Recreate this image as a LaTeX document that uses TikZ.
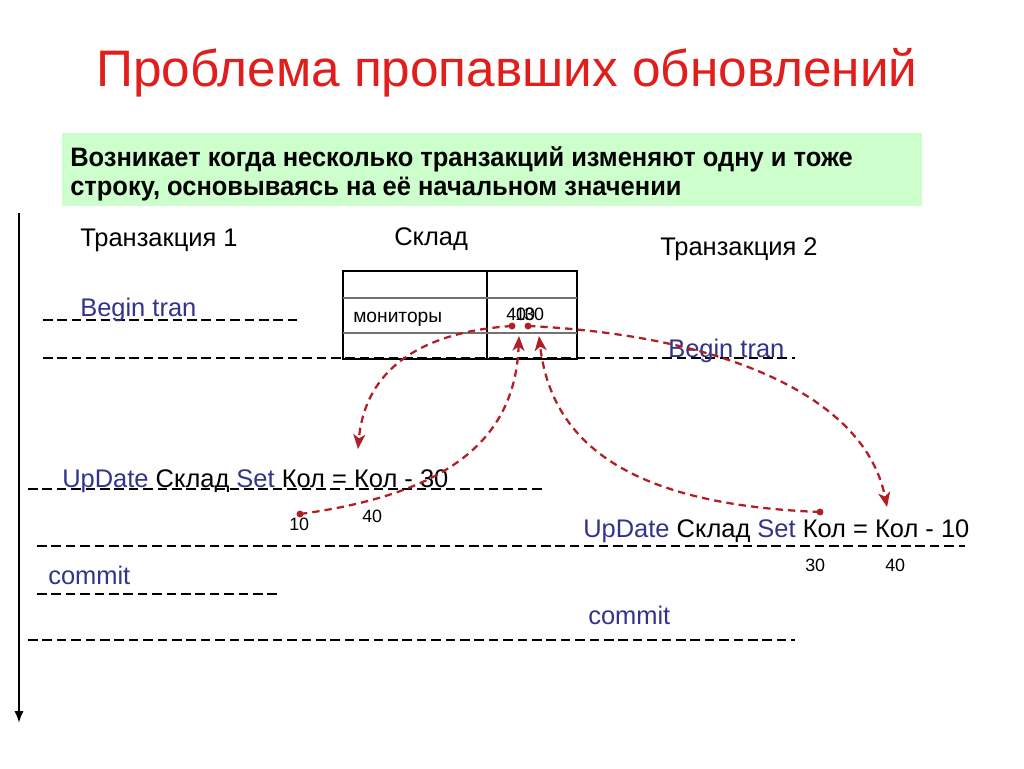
\documentclass[tikz,border=0pt]{standalone}
\usepackage{fontspec}
\setmainfont{Liberation Sans}
\newfontfamily\narrowfont[FakeStretch=0.955]{Liberation Sans}
\usetikzlibrary{arrows.meta}
\definecolor{titlered}{RGB}{224,30,28}
\definecolor{boxgreen}{RGB}{204,255,204}
\definecolor{flowred}{RGB}{178,30,36}
\definecolor{kwblue}{RGB}{51,51,140}
\tikzset{
  titletext/.style={anchor=base, inner sep=0pt, text=titlered, font=\fontsize{38.5}{46}\selectfont},
  notetext/.style={anchor=base west, inner sep=0pt, font=\narrowfont\bfseries\fontsize{20}{24}\selectfont},
  lbl/.style={anchor=base west, inner sep=0pt, font=\fontsize{19.1}{23}\selectfont},
  cell/.style={anchor=base west, inner sep=0pt, font=\fontsize{14.4}{17}\selectfont},
  num/.style={anchor=base west, inner sep=0pt, font=\fontsize{13.4}{15}\selectfont},
  tl/.style={line width=1.7pt, dash pattern=on 7.2pt off 3.6pt},
  redflow/.style={draw=flowred, line width=1.7pt, dash pattern=on 5.5pt off 3.8pt, -{Stealth[length=11pt,width=9pt,inset=3pt]}},
  reddot/.style={fill=flowred}
}
\newcommand{\kw}[1]{\textcolor{kwblue}{#1}}
\begin{document}
\begin{tikzpicture}[x=0.75pt,y=-0.75pt]
\useasboundingbox (0,0) rectangle (1024,768);
% title
\node[titletext] (title) at (507,86) {Проблема пропавших обновлений};
% green note
\node[fill=boxgreen, minimum width=645pt, minimum height=54.75pt, anchor=north west, inner sep=0pt] (note) at (62,133) {};
\node[notetext] (note1) at (70,166) {Возникает когда несколько транзакций изменяют одну и тоже};
\node[notetext] (note2) at (70,195) {строку, основываясь на её начальном значении};
% time axis
\coordinate (axtop) at (19,213);
\coordinate (axbot) at (19,723);
\draw[line width=1.6pt, -{Latex[length=9pt,width=7pt]}] (axtop) -- (axbot);
% column headers
\node[lbl] (t1) at (80,246) {Транзакция 1};
\node[lbl] (sklad) at (394,245) {Склад};
\node[lbl] (t2) at (660,255) {Транзакция 2};
% table
\draw[line width=1.2pt] (343,271) rectangle (577,359);
\draw[line width=1.2pt] (487,271) -- (487,359);
\draw[line width=0.8pt, black!55] (343,298) -- (577,298);
\draw[line width=0.8pt, black!55] (343,333) -- (577,333);
\node[cell] (mon) at (353,322) {мониторы};
\node[num] (v40) at (506,320) {40};
\node[num] (v10) at (515,320) {10};
\node[num] (v30) at (524,320) {30};
% timeline dashes
\draw[tl] (43,320) -- (300,320);
\draw[tl] (43,358) -- (795,358);
\draw[tl] (28,489) -- (545,489);
\draw[tl] (37,546) -- (965,546);
\draw[tl] (37,594) -- (278,594);
\draw[tl] (28,640) -- (795,640);
% statements
\node[lbl] (bt1) at (80,316) {\kw{Begin tran}};
\node[lbl] (bt2) at (668,357) {\kw{Begin tran}};
\node[lbl] (up1) at (62,487) {\kw{UpDate} Склад \kw{Set} Кол = Кол - 30};
\node[lbl] (up2) at (583,537) {\kw{UpDate} Склад \kw{Set} Кол = Кол - 10};
\node[lbl] (cm1) at (48,584) {\kw{commit}};
\node[lbl] (cm2) at (588,624) {\kw{commit}};
% small values
\node[num] (n10) at (289,530) {10};
\node[num] (n40a) at (362,522) {40};
\node[num] (n30) at (805,571) {30};
\node[num] (n40b) at (885,571) {40};
% dots and arrow ends
\coordinate (dA) at (512,326);
\coordinate (dB) at (528,326);
\coordinate (dC) at (300,514);
\coordinate (dD) at (820,512);
\coordinate (tA) at (358,449);
\coordinate (tB) at (887,507);
\coordinate (tC) at (519,336);
\coordinate (tD) at (539,336);
\draw[redflow] (dA) .. controls (420,332) and (365,370) .. (tA);
\draw[redflow] (dB) .. controls (720,335) and (865,395) .. (tB);
\draw[redflow] (dC) .. controls (440,495) and (515,445) .. (tC);
\draw[redflow] (dD) .. controls (640,505) and (552,450) .. (tD);
\fill[reddot] (dA) circle[radius=2.6pt];
\fill[reddot] (dB) circle[radius=2.6pt];
\fill[reddot] (dC) circle[radius=2.6pt];
\fill[reddot] (dD) circle[radius=2.6pt];
\end{tikzpicture}
\end{document}
